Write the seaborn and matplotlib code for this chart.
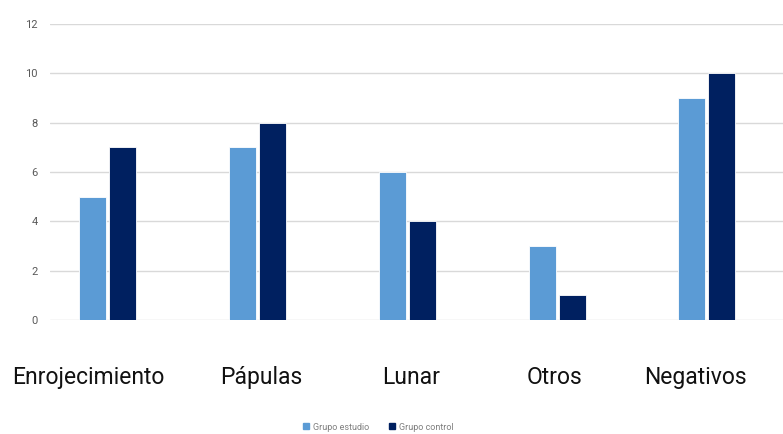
import numpy as np
import seaborn as sns
import pandas as pd
from matplotlib import pyplot as plt
from matplotlib import transforms

categorias = ['Enrojecimiento', 'Pápulas', 'Lunar', 'Otros', 'Negativos']
grupo_estudio = [5, 7, 6, 3, 9]
grupo_control = [7, 8, 4, 1, 10]
series = ['Grupo estudio', 'Grupo control']
colores = ['#5B9BD5', '#002060']

df = pd.DataFrame({
    'categoria': categorias * 2,
    'valor': grupo_estudio + grupo_control,
    'grupo': [series[0]] * len(categorias) + [series[1]] * len(categorias),
})

sns.set_theme(style='white')
plt.rcParams['font.family'] = ['Roboto', 'DejaVu Sans']

fig = plt.figure(figsize=(7.83, 4.34), dpi=100)
ax = fig.add_axes([50 / 783, 1 - 320 / 434, 733 / 783, 296 / 434])

sns.barplot(data=df, x='categoria', y='valor', hue='grupo', order=categorias,
            hue_order=series, palette=colores, saturation=1, width=0.4, gap=0.1,
            edgecolor='white', linewidth=0.6, ax=ax, legend=True)

ax.set_ylim(0, 12)
ax.set_xlim(-0.387, 4.508)
ax.set_yticks(range(0, 13, 2))
ax.yaxis.grid(True, color='#d9d9d9', linewidth=1)
ax.set_axisbelow(True)
for s in ax.spines.values():
    s.set_visible(False)
ax.set_xlabel('')
ax.set_ylabel('')
ax.tick_params(axis='x', length=0, pad=33, labelsize=16.5, labelcolor='#111111')
ax.tick_params(axis='y', length=0, pad=9, labelsize=8, labelcolor='#595959')

# nudge category labels like the original
desplaz = [-20, 4, 4, -3, -11]
for lab, dx in zip(ax.get_xticklabels(), desplaz):
    lab.set_transform(lab.get_transform() + transforms.ScaledTranslation(dx / 100, 0, fig.dpi_scale_trans))

ax.get_legend().remove()
handles = [plt.Line2D([], [], marker='s', linestyle='', color=c, markersize=4) for c in colores]
fig.legend(handles, series, loc='center', bbox_to_anchor=(378 / 783, 1 - 427 / 434),
           ncol=2, frameon=False, fontsize=6.5, labelcolor='#7f7f7f',
           handletextpad=0.3, columnspacing=2.2, handlelength=0.8)

fig.savefig('out.png', dpi=100)
